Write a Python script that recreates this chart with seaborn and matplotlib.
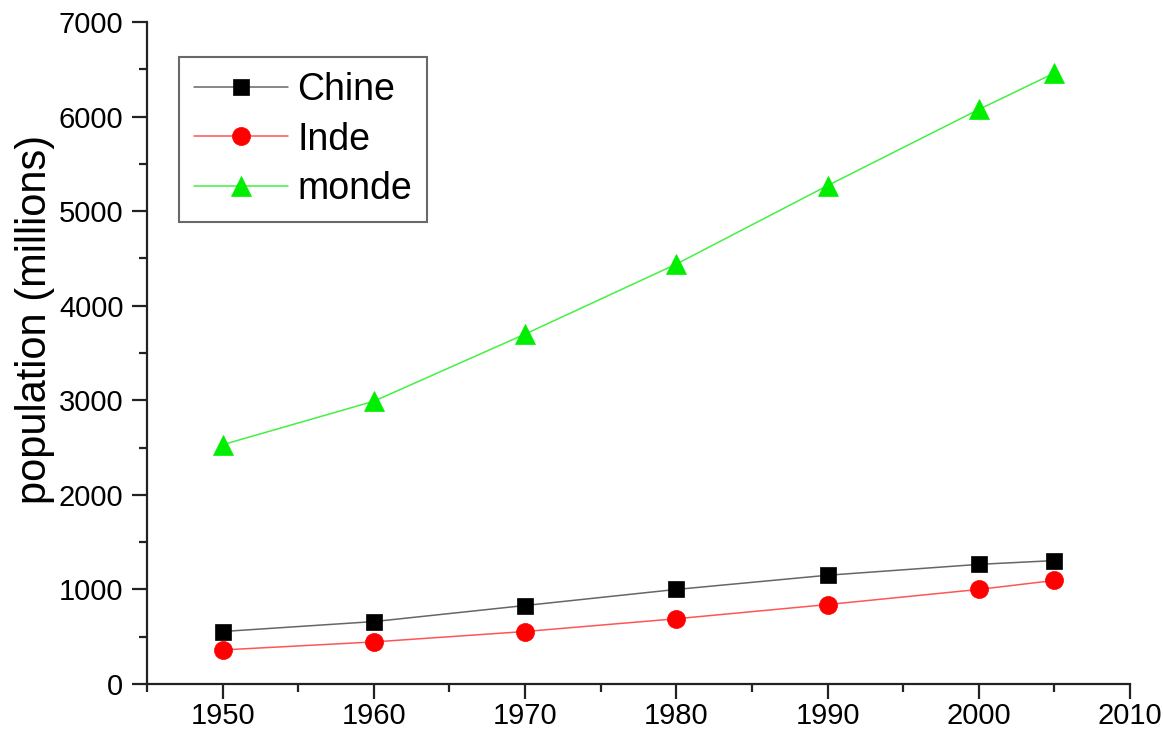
import matplotlib
matplotlib.use("Agg")
import matplotlib.pyplot as plt
import seaborn as sns
import pandas as pd
from matplotlib.ticker import MultipleLocator

years = [1950, 1960, 1970, 1980, 1990, 2000, 2005]
chine = [555, 660, 830, 1000, 1150, 1265, 1305]
inde = [360, 445, 555, 690, 840, 1000, 1095]
monde = [2530, 2990, 3700, 4440, 5270, 6075, 6460]
series_names = ["Chine", "Inde", "monde"]

sns.set_style("ticks")
plt.rcParams['font.family'] = ['Liberation Sans', 'DejaVu Sans']

fig = plt.figure(figsize=(11.63, 7.32), dpi=100)
ax = fig.add_axes([147/1163, 48/732, (1130-147)/1163, (684-22)/732])

styles = {
    "Chine": dict(line="#666666", mk="s", mc="black", ms=11),
    "Inde": dict(line="#ff5555", mk="o", mc="#ff0000", ms=13),
    "monde": dict(line="#44f044", mk="^", mc="#00ee00", ms=14),
}
data = {"Chine": chine, "Inde": inde, "monde": monde}

for name in series_names:
    st = styles[name]
    df = pd.DataFrame({"year": years, "pop": data[name]})
    sns.lineplot(data=df, x="year", y="pop", ax=ax, color=st["line"], linewidth=1.1,
                 marker=st["mk"], markersize=st["ms"], markerfacecolor=st["mc"],
                 markeredgecolor=st["mc"], markeredgewidth=0.5, label=name)

ax.set_xlim(1945, 2010)
ax.set_ylim(0, 7000)
ax.xaxis.set_major_locator(MultipleLocator(10))
ax.xaxis.set_minor_locator(MultipleLocator(5))
ax.yaxis.set_major_locator(MultipleLocator(1000))
ax.yaxis.set_minor_locator(MultipleLocator(500))
ax.set_xticks([1950, 1960, 1970, 1980, 1990, 2000, 2010])

for s in ["top", "right"]:
    ax.spines[s].set_visible(False)
for s in ["left", "bottom"]:
    ax.spines[s].set_linewidth(1.6)
    ax.spines[s].set_color("#222222")

ax.tick_params(which="major", direction="out", length=11, width=1.6, color="#222222",
               labelsize=21, labelcolor="black", pad=6)
ax.tick_params(which="minor", direction="out", length=6, width=1.6, color="#222222")
ax.tick_params(axis="x", which="major", pad=2)

ax.set_xlabel("")
ax.set_ylabel("population (millions)", fontsize=30, color="black")
ax.yaxis.set_label_coords(-0.0936, 0.55)

leg = ax.legend(loc="upper left", bbox_to_anchor=(0.0326, 0.947), borderaxespad=0,
                fontsize=27, frameon=True, fancybox=False, handlelength=2.5,
                handletextpad=0.25, labelspacing=0.36, borderpad=0.4)
leg.get_frame().set_edgecolor("#444444")
leg.get_frame().set_linewidth(1.5)
for t in leg.get_texts():
    t.set_color("black")

fig.savefig("out.png", dpi=100)
